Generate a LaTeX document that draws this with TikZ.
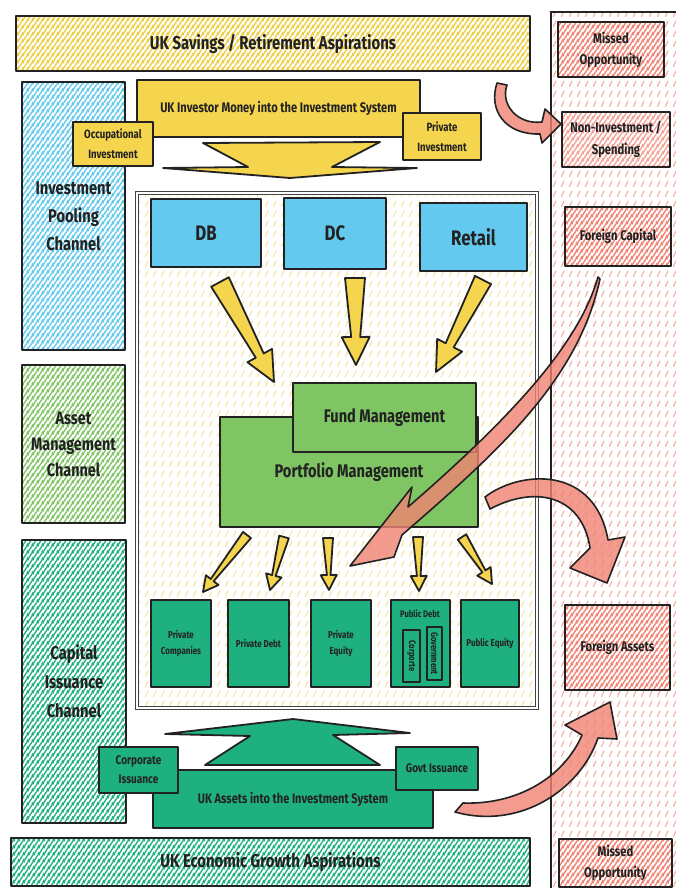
\documentclass[tikz,border=0pt]{standalone}
\usepackage{fontspec}
\setmainfont{Fira Sans}[FakeStretch=0.8]
\usetikzlibrary{patterns,patterns.meta}
\definecolor{ink}{HTML}{222222}
\definecolor{ylw}{HTML}{F5D54E}
\definecolor{ylwh}{HTML}{EFCF45}
\definecolor{ylwpale}{HTML}{F6E39A}
\definecolor{blu}{HTML}{64C9EF}
\definecolor{lgr}{HTML}{7FC563}
\definecolor{dgr}{HTML}{1EB07F}
\definecolor{rd}{HTML}{F08373}
\definecolor{rdpale}{HTML}{F4A89C}
\tikzdeclarepattern{
  name=dashy,
  type=uncolored,
  bounding box={(-1pt,-1pt) and (9pt,11pt)},
  tile size={(8pt,10pt)},
  code={\draw[line width=1pt,line cap=round] (1.5pt,1.5pt) -- (4pt,7pt);}
}
\tikzdeclarepattern{
  name=hatch,
  type=uncolored,
  bounding box={(0pt,0pt) and (4.5pt,7pt)},
  tile size={(4.5pt,7pt)},
  code={\draw[line width=1.5pt] (-4.5pt,-7pt) -- (9pt,14pt);
        \draw[line width=1.5pt] (-9pt,-7pt) -- (4.5pt,14pt);
        \draw[line width=1.5pt] (0pt,-7pt) -- (13.5pt,14pt);}
}
\newcommand\fsz[2]{\fontsize{#1}{#2}\selectfont\bfseries}
\newcommand\bx[7]{\node[#6, minimum width={#4-#2}, minimum height={#5-#3}, inner sep=0pt, align=center] (#1) at ({(#2+#4)/2},{(#3+#5)/2}) {#7};}
\newcommand\blockarr[9]{%
\pgfmathsetmacro\baang{atan2(-(#5-#3),#4-#2)}%
\pgfmathsetmacro\balen{veclen(#4-#2,#5-#3)}%
\pgfmathsetmacro\baneck{\balen-#9}%
\begin{scope}[shift={(#2,#3)},rotate=\baang]
\draw[#1] (0pt,#6pt) -- (\baneck pt,#7pt) -- (\baneck pt,#8pt) -- (\balen pt,0pt) -- (\baneck pt,-#8pt) -- (\baneck pt,-#7pt) -- (0pt,-#6pt) -- cycle;
\end{scope}}
\begin{document}
\begin{tikzpicture}[x=1pt,y=-1pt,
 inkline/.style={draw=ink,line width=1.8pt,line join=round},
 filled/.style={inkline,fill=#1},
 hatchbox/.style={inkline,preaction={fill=white},pattern=hatch,pattern color=#1},
 sysframe/.style={draw=ink!85,line width=0.9pt,double=white,double distance=2.5pt,preaction={fill=white},pattern=dashy,pattern color=ylwpale},
 redarrow/.style={draw=ink,line width=1.6pt,fill=rd,fill opacity=0.8,line join=round},
 every node/.style={text=ink}]
\useasboundingbox (0,0) rectangle (676,888);
\fill[white] (0,0) rectangle (676,888);
% right column
\path[draw=ink,line width=1.6pt,pattern=dashy,pattern color=rdpale] (551,12) -- (677,12) -- (677,890) -- (551,890) -- cycle;
\bx{miss1}{558}{22}{664}{77}{hatchbox=rd,font=\fsz{14}{21}}{Missed\\Opportunity}
\bx{noninv}{562}{112}{670}{167}{hatchbox=rd!75,font=\fsz{14}{22}}{Non-Investment /\\Spending}
\bx{fcap}{565}{207}{671}{266}{hatchbox=rd,font=\fsz{14}{16}}{Foreign Capital}
\bx{fassets}{565}{605}{670}{690}{hatchbox=rd,font=\fsz{14}{16}}{Foreign Assets}
\bx{miss2}{559}{839}{672}{887}{hatchbox=rd,font=\fsz{14}{21}}{Missed\\Opportunity}
% top and bottom bars
\bx{savings}{16}{16}{530}{71}{hatchbox=ylwh,font=\fsz{18.6}{20}}{UK Savings / Retirement Aspirations}
\bx{growth}{11}{838}{530}{886}{hatchbox=dgr,font=\fsz{18.6}{20}}{UK Economic Growth Aspirations}
% channels
\bx{pool}{22}{82}{125}{350}{hatchbox=blu,font=\fsz{18.4}{28}}{Investment\\Pooling\\Channel}
\bx{assetch}{22}{365}{125}{523}{hatchbox=lgr,font=\fsz{18}{26}}{Asset\\Management\\Channel}
\bx{capch}{22}{540}{126}{823}{hatchbox=dgr,font=\fsz{18.4}{29}}{Capital\\Issuance\\Channel}
% investment system frame
\bx{sys}{137}{193}{537}{708}{sysframe}{}
% top inflow
\bx{money}{137}{80}{420}{137}{filled=ylw,font=\fsz{13.9}{15}}{UK Investor Money into the Investment System}
\bx{occ}{73}{122}{153}{166}{filled=ylw,font=\fsz{12}{20}}{Occupational\\Investment}
\bx{privinv}{403}{113}{481}{160}{filled=ylw,font=\fsz{12}{20}}{Private\\Investment}
\draw[filled=ylw] (203,143) -- (380,142) -- (332,167) -- (417,168) -- (290,178) -- (163,168) -- (248,167) -- cycle;
% pools
\bx{db}{151}{199}{261}{267}{filled=blu,font=\fsz{21}{24}}{DB}
\bx{dc}{284}{198}{386}{269}{filled=blu,font=\fsz{21}{24}}{DC}
\bx{retail}{420}{203}{527}{271}{filled=blu,font=\fsz{21}{24}}{Retail}
\blockarr{filled=ylw}{220}{282}{274}{382}{10}{4.5}{14}{30}
\blockarr{filled=ylw}{355}{278}{356}{365}{10}{4.5}{14}{28}
\blockarr{filled=ylw}{483}{280}{436}{372}{9}{4.5}{14}{30}
% management
\bx{port}{220}{417}{478}{527}{filled=lgr,font=\fsz{18.3}{20}}{Portfolio Management}
\bx{fund}{293}{383}{476}{452}{filled=lgr,font=\fsz{18.2}{20}}{Fund Management}
\blockarr{filled=ylw}{247}{535}{203}{592}{5}{1.8}{8}{15}
\blockarr{filled=ylw}{284}{537}{270}{590}{5}{1.8}{8}{15}
\blockarr{filled=ylw}{328}{538}{329}{590}{5}{1.8}{8}{15}
\blockarr{filled=ylw}{418}{537}{419}{591}{5}{1.8}{8}{15}
\blockarr{filled=ylw}{462}{537}{492}{584}{5}{1.8}{8}{15}
% assets
\bx{pc}{151}{600}{211}{687}{filled=dgr,font=\fsz{10}{16}}{Private\\Companies}
\bx{pd}{228}{600}{289}{687}{filled=dgr,font=\fsz{10}{16}}{Private Debt}
\bx{pe}{311}{600}{371}{687}{filled=dgr,font=\fsz{10}{16}}{Private\\Equity}
\bx{pubd}{391}{600}{450}{687}{filled=dgr}{}
\node[font=\fsz{9.5}{12}] (pubdl) at (420,614) {Public Debt};
\node[filled=dgr,rotate=-90,minimum width=52,minimum height=17,inner sep=0pt,font=\fsz{9.5}{10}] (corp) at (411.5,656) {Corporte};
\node[filled=dgr,rotate=-90,minimum width=53,minimum height=15,inner sep=0pt,font=\fsz{9.5}{10}] (govt) at (434.5,653.5) {Government};
\bx{pubeq}{461}{600}{519}{687}{filled=dgr,font=\fsz{10}{16}}{Public Equity}
% bottom inflow
\draw[filled=dgr] (293,719) -- (410,733) -- (333,735) -- (380,765) -- (205,765) -- (250,736) -- (165,734) -- cycle;
\bx{assets}{153}{770}{433}{828}{filled=dgr,font=\fsz{13.8}{15}}{UK Assets into the Investment System}
\bx{corpiss}{99}{747}{178}{793}{filled=dgr,font=\fsz{12.5}{19}}{Corporate\\Issuance}
\bx{govtiss}{396}{747}{478}{790}{filled=dgr,font=\fsz{12.3}{14}}{Govt Issuance}
% red arrows
\draw[redarrow] (497,83) .. controls (488,110) and (505,135) .. (540,134) -- (542,143) -- (561,124) -- (545,109) -- (542,122) .. controls (518,125) and (500,105) .. (507,85) -- cycle;
\draw[redarrow] (598,277) .. controls (580,340) and (520,410) .. (408,507) -- (412,487) -- (350,566) -- (394,557) -- (402,535) .. controls (500,450) and (578,380) .. (600,279) -- cycle;
\draw[redarrow] (485,497) .. controls (520,470) and (595,465) .. (608,540) -- (625,537) -- (607,583) -- (570,568) -- (590,548) .. controls (582,495) and (535,485) .. (490,509) -- cycle;
\draw[redarrow] (455,812) .. controls (520,830) and (580,790) .. (598,738) -- (617,739) -- (610,702) -- (565,725) -- (582,735) .. controls (565,775) and (520,805) .. (463,803) -- cycle;
\end{tikzpicture}
\end{document}
